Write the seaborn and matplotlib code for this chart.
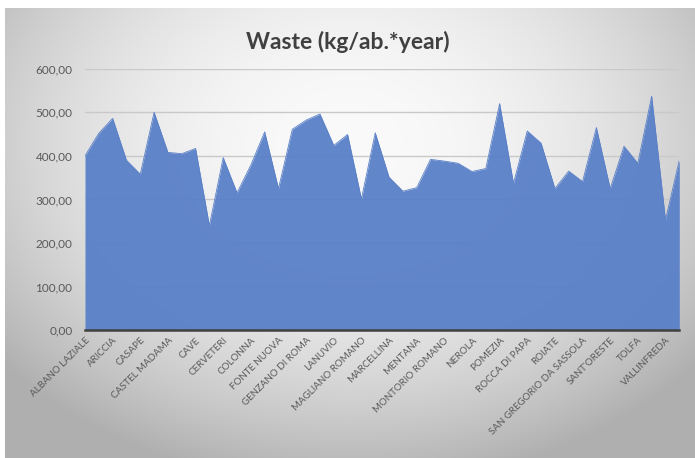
import numpy as np
import pandas as pd
import matplotlib
matplotlib.use("Agg")
import matplotlib.pyplot as plt
import seaborn as sns
from matplotlib.ticker import FuncFormatter

# Municipalities (alphabetical); every other one is labelled on the axis
comuni = [
    "ALBANO LAZIALE", "ANZIO", "ARICCIA", "BRACCIANO", "CASAPE", "CASTEL GANDOLFO",
    "CASTEL MADAMA", "CASTELNUOVO DI PORTO", "CAVE", "CERRETO LAZIALE", "CERVETERI",
    "CIVITAVECCHIA", "COLONNA", "FIUMICINO", "FONTE NUOVA", "FRASCATI",
    "GENZANO DI ROMA", "GUIDONIA MONTECELIO", "LANUVIO", "LARIANO", "MAGLIANO ROMANO",
    "MANZIANA", "MARCELLINA", "MARINO", "MENTANA", "MONTEROTONDO", "MONTORIO ROMANO",
    "NEMI", "NEROLA", "PALESTRINA", "POMEZIA", "RIANO", "ROCCA DI PAPA", "ROCCA PRIORA",
    "ROIATE", "SAN CESAREO", "SAN GREGORIO DA SASSOLA", "SAN VITO ROMANO", "SANT'ORESTE",
    "TIVOLI", "TOLFA", "TREVIGNANO ROMANO", "VALLINFREDA", "VELLETRI",
]

# Waste produced, kg per inhabitant per year
waste = [
    400, 452, 486, 390, 358, 500, 408, 405, 417, 240, 396,
    315, 379, 455, 325, 461, 482, 496, 424, 449, 301, 453,
    351, 319, 327, 392, 388, 383, 364, 371, 520, 337, 457,
    429, 325, 365, 341, 465, 325, 422, 383, 537, 253, 390,
]

y_ticks = [0, 100, 200, 300, 400, 500, 600]

df = pd.DataFrame({"pos": np.arange(len(comuni)), "comune": comuni, "waste": waste})

sns.set_theme(style="white")
plt.rcParams["font.family"] = ["Lato", "DejaVu Sans"]

fig = plt.figure(figsize=(6.95, 4.58), dpi=100)
fig.patch.set_facecolor("white")

# Soft radial grey backdrop behind the chart
bg = fig.add_axes([5 / 695, 0, 690 / 695, 450 / 458], zorder=-5)
gy, gx = np.mgrid[0:1:300j, 0:1:450j]
r2 = ((gx - 0.5) / 0.62) ** 2 + ((gy - 0.3) / 0.72) ** 2
shade = np.clip(250 - 66 * r2, 175, 250) / 255.0
bg.imshow(np.dstack([shade, shade, shade]), aspect="auto", extent=[0, 1, 0, 1],
          origin="upper", interpolation="bilinear")
bg.set_axis_off()

ax = fig.add_axes([85 / 695, 1 - 330.2 / 458, (679.3 - 85) / 695, (330.2 - 68.7) / 458])
ax.set_facecolor("none")

fill_color = "#5a80c8"
ax.fill_between(df["pos"], 0, df["waste"], color=fill_color, alpha=0.95, linewidth=0, zorder=2)
sns.lineplot(data=df, x="pos", y="waste", ax=ax, color=fill_color, linewidth=0.6, zorder=3)

ax.set_xlim(0, len(comuni) - 1)
ax.set_ylim(0, 600)
ax.set_yticks(y_ticks)
ax.yaxis.set_major_formatter(FuncFormatter(lambda v, _: f"{v:.2f}".replace(".", ",")))
ax.grid(axis="y", color="#c9c9c9", linewidth=1.0, zorder=1)
ax.set_axisbelow(True)

ax.set_xticks(df["pos"][::2])
ax.set_xticklabels(df["comune"][::2], rotation=45, ha="right", rotation_mode="anchor")
ax.tick_params(axis="x", length=0, pad=4, labelsize=7, labelcolor="#595959")
ax.tick_params(axis="y", length=0, pad=9, labelsize=8.5, labelcolor="#595959")
ax.set_xlabel("")
ax.set_ylabel("")

for side in ["top", "right", "left"]:
    ax.spines[side].set_visible(False)
ax.spines["bottom"].set_color("#404040")
ax.spines["bottom"].set_linewidth(1.8)
ax.spines["bottom"].set_zorder(4)

fig.text(0.5, 1 - 42 / 458, "Waste (kg/ab.*year)", ha="center", va="center",
         fontsize=16.5, fontweight="bold", color="#404040")

fig.savefig("out.png", dpi=100)
